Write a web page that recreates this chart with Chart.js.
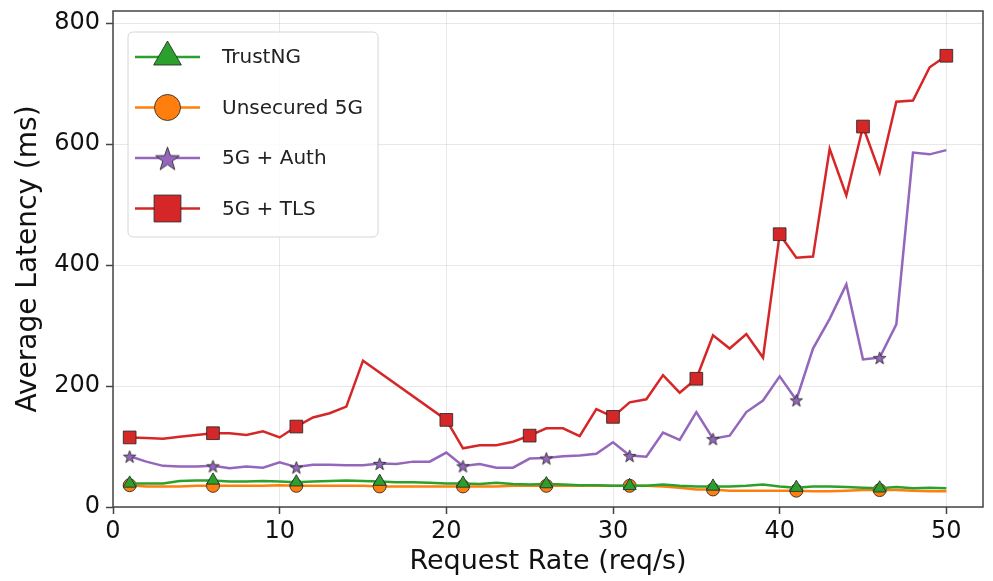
<!DOCTYPE html>
<html>
<head>
<meta charset="utf-8">
<script src="https://cdn.jsdelivr.net/npm/chart.js@4.4.1/dist/chart.umd.min.js"></script>
<style>
  html, body { margin: 0; padding: 0; background: #fff; }
  #wrap { position: relative; width: 993px; height: 581px; }
</style>
</head>
<body>
<div id="wrap"><canvas id="latency-chart"></canvas></div>
<script>
  // Request rates (req/s)
  const rates = [1, 2, 3, 4, 5, 6, 7, 8, 9, 10, 11, 12, 13, 14, 15, 16, 17, 18, 19, 20,
    21, 22, 23, 24, 25, 26, 27, 28, 29, 30, 31, 32, 33, 34, 35, 36, 37, 38, 39, 40,
    41, 42, 43, 44, 45, 46, 47, 48, 49, 50];
  // TLS run has no samples between 16 and 19
  const tlsRates = [1, 2, 3, 4, 5, 6, 7, 8, 9, 10, 11, 12, 13, 14, 15,
    20, 21, 22, 23, 24, 25, 26, 27, 28, 29, 30, 31, 32, 33, 34, 35, 36, 37, 38, 39, 40,
    41, 42, 43, 44, 45, 46, 47, 48, 49, 50];

  const trustNg = [39, 39, 39, 43, 44, 44, 42, 42, 43, 42, 41, 42, 43, 44, 43, 42, 41, 41, 40, 39,
    39, 38, 40, 38, 37, 38, 37, 36, 36, 35, 35, 35, 37, 35, 34, 34, 34, 35, 37, 34,
    32, 34, 34, 33, 32, 31, 33, 31, 32, 31];
  const unsecured = [36, 34, 34, 34, 35, 35, 35, 35, 35, 36, 35, 35, 35, 35, 35, 34, 34, 34, 34, 34,
    34, 34, 34, 35, 35, 35, 35, 35, 35, 35, 35, 35, 34, 32, 29, 29, 27, 27, 27, 27,
    27, 26, 26, 27, 28, 28, 28, 27, 26, 26];
  const auth = [84, 75, 68, 67, 67, 68, 64, 67, 65, 74, 66, 70, 70, 69, 69, 72, 71, 75, 75, 90,
    68, 71, 65, 65, 80, 81, 84, 85, 88, 107, 85, 83, 123, 111, 157, 113, 118, 157, 176, 216,
    177, 262, 311, 368, 244, 247, 302, 586, 583, 590];
  const tls = [115, 114, 113, 116, 119, 122, 122, 119, 125, 115, 133, 148, 155, 166, 242,
    144, 97, 102, 102, 108, 118, 130, 130, 117, 162, 149, 173, 178, 218, 189, 212, 284, 262, 286, 247, 451,
    412, 414, 592, 515, 629, 553, 670, 672, 727, 746];

  const xTicks = [0, 10, 20, 30, 40, 50];
  const yTicks = [0, 200, 400, 600, 800];

  const colors = {
    trustNg: '#2ca02c',
    unsecured: '#ff7f0e',
    auth: '#9467bd',
    tls: '#d62728',
    edge: 'rgba(40, 40, 40, 0.85)',
  };

  const fontFamily = '"DejaVu Sans", "Liberation Sans", sans-serif';

  function makeStar(size, fill) {
    const c = document.createElement('canvas');
    c.width = size;
    c.height = size;
    const g = c.getContext('2d');
    const cx = size / 2;
    const cy = size / 2 + size * 0.06;
    const outer = size / 2 - 1;
    const inner = outer * 0.4;
    g.beginPath();
    for (let i = 0; i < 10; i += 1) {
      const r = i % 2 ? inner : outer;
      const a = -Math.PI / 2 + (i * Math.PI) / 5;
      g.lineTo(cx + r * Math.cos(a), cy + r * Math.sin(a));
    }
    g.closePath();
    g.fillStyle = fill;
    g.fill();
    g.lineWidth = 1;
    g.strokeStyle = colors.edge;
    g.stroke();
    return c;
  }

  const starSmall = makeStar(15, colors.auth);
  const starBig = makeStar(27, colors.auth);

  function pairs(xs, ys) {
    return xs.map((x, i) => ({ x, y: ys[i] }));
  }

  // a marker on every fifth sample, like markevery=5
  function every5(radius) {
    return (ctx) => (ctx.dataIndex % 5 === 0 ? radius : 0);
  }

  function series(label, xs, ys, color, pointStyle, radius) {
    return {
      label,
      data: pairs(xs, ys),
      borderColor: color,
      backgroundColor: color,
      borderWidth: 2.5,
      tension: 0,
      pointStyle,
      pointRadius: every5(radius),
      pointHoverRadius: every5(radius),
      pointBackgroundColor: color,
      pointBorderColor: colors.edge,
      pointBorderWidth: 1,
    };
  }

  const datasets = [
    series('TrustNG', rates, trustNg, colors.trustNg, 'triangle', 7.5),
    series('Unsecured 5G', rates, unsecured, colors.unsecured, 'circle', 6.5),
    series('5G + Auth', rates, auth, colors.auth, starSmall, 7),
    series('5G + TLS', tlsRates, tls, colors.tls, 'rect', 9),
  ];

  const legendMarkers = [
    { pointStyle: 'triangle', radius: 16 },
    { pointStyle: 'circle', radius: 13 },
    { pointStyle: starBig, radius: 13 },
    { pointStyle: 'rect', radius: 19 },
  ];

  const frame = {
    id: 'frame',
    afterDatasetsDraw(chart) {
      const { ctx, chartArea: a } = chart;
      ctx.save();
      ctx.strokeStyle = '#444';
      ctx.lineWidth = 1.5;
      ctx.strokeRect(a.left, a.top, a.right - a.left, a.bottom - a.top);
      ctx.restore();
    },
  };

  const insideLegend = {
    id: 'insideLegend',
    afterDraw(chart) {
      const { ctx, chartArea: a } = chart;
      const left = a.left + 15;
      const top = a.top + 21;
      const w = 250;
      const h = 205;
      ctx.save();
      ctx.beginPath();
      ctx.roundRect(left, top, w, h, 5);
      ctx.fillStyle = 'rgba(255, 255, 255, 0.85)';
      ctx.fill();
      ctx.strokeStyle = '#d6d6d6';
      ctx.lineWidth = 1;
      ctx.stroke();

      chart.data.datasets.forEach((ds, i) => {
        const y = top + 25 + i * 50.5;
        ctx.beginPath();
        ctx.moveTo(left + 7, y);
        ctx.lineTo(left + 72, y);
        ctx.strokeStyle = ds.borderColor;
        ctx.lineWidth = 2.5;
        ctx.stroke();

        const m = legendMarkers[i];
        ctx.fillStyle = ds.borderColor;
        ctx.strokeStyle = colors.edge;
        ctx.lineWidth = 1;
        Chart.helpers.drawPoint(ctx, {
          pointStyle: m.pointStyle,
          radius: m.radius,
          rotation: 0,
          borderWidth: 1,
        }, left + 39.5, y);

        ctx.fillStyle = '#222';
        ctx.font = `20px ${fontFamily}`;
        ctx.textAlign = 'left';
        ctx.textBaseline = 'middle';
        ctx.fillText(ds.label, left + 94, y + 1);
      });
      ctx.restore();
    },
  };

  const canvas = document.getElementById('latency-chart');

  new Chart(canvas, {
    type: 'line',
    data: { datasets },
    plugins: [frame, insideLegend],
    options: {
      responsive: true,
      maintainAspectRatio: false,
      animation: false,
      layout: {
        padding: { left: 0, top: 11, right: 9, bottom: 0 },
      },
      plugins: {
        legend: { display: false },
        tooltip: { enabled: false },
      },
      scales: {
        x: {
          type: 'linear',
          min: 0,
          max: 52.2,
          afterBuildTicks: (scale) => {
            scale.ticks = xTicks.map((value) => ({ value }));
          },
          afterFit: (scale) => {
            scale.height = 74;
            scale.paddingLeft = 0;
            scale.paddingRight = 0;
          },
          ticks: {
            color: '#111',
            font: { family: fontFamily, size: 24 },
            padding: 3,
            maxRotation: 0,
            autoSkip: false,
          },
          grid: {
            color: 'rgba(0, 0, 0, 0.09)',
            lineWidth: 1,
            drawTicks: true,
            tickLength: 7,
            tickColor: '#444',
            tickWidth: 1.5,
          },
          border: { display: false },
          title: {
            display: true,
            text: 'Request Rate (req/s)',
            color: '#111',
            font: { family: fontFamily, size: 27 },
            padding: { top: 0, bottom: 3 },
          },
        },
        y: {
          type: 'linear',
          min: 0,
          max: 820,
          afterBuildTicks: (scale) => {
            scale.ticks = yTicks.map((value) => ({ value }));
          },
          afterFit: (scale) => {
            scale.width = 113;
            scale.paddingTop = 0;
            scale.paddingBottom = 0;
          },
          ticks: {
            color: '#111',
            font: { family: fontFamily, size: 24 },
            padding: 6,
          },
          grid: {
            color: 'rgba(0, 0, 0, 0.09)',
            lineWidth: 1,
            drawTicks: true,
            tickLength: 7,
            tickColor: '#444',
            tickWidth: 1.5,
          },
          border: { display: false },
          title: {
            display: true,
            text: 'Average Latency (ms)',
            color: '#111',
            font: { family: fontFamily, size: 28 },
            padding: { top: 12, bottom: 0 },
          },
        },
      },
    },
  });
</script>
</body>
</html>
